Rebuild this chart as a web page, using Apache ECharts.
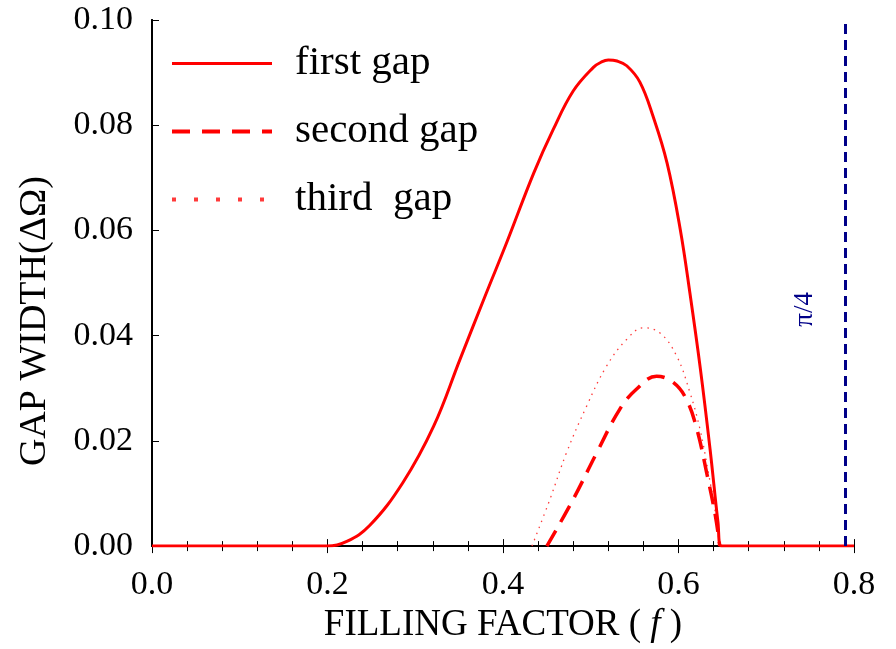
<!DOCTYPE html>
<html>
<head>
<meta charset="utf-8">
<script src="https://cdn.jsdelivr.net/npm/echarts@6/dist/echarts.min.js"></script>
<style>
  html, body { margin: 0; padding: 0; background: #fff; }
  #chart { width: 896px; height: 649px; }
</style>
</head>
<body>
<div id="chart"></div>
<script>
// Filling factor samples and gap widths for each band gap
const firstF   = [0.0, 0.1, 0.2, 0.222, 0.248, 0.286, 0.321, 0.351, 0.381, 0.404, 0.435, 0.457, 0.480, 0.503, 0.512, 0.520, 0.530, 0.541, 0.556, 0.571, 0.587, 0.602, 0.613, 0.625, 0.636, 0.645, 0.649, 0.7, 0.8];
const firstGap = [0.0, 0.0, 0.0, 0.0009, 0.0039, 0.0121, 0.0228, 0.0355, 0.0481, 0.0576, 0.0709, 0.0791, 0.0865, 0.0910, 0.0920, 0.0924, 0.0922, 0.0913, 0.0882, 0.0817, 0.0728, 0.0602, 0.0481, 0.0336, 0.0184, 0.0045, 0.0, 0.0, 0.0];

const secondF   = [0.450, 0.480, 0.507, 0.533, 0.552, 0.575, 0.594, 0.609, 0.621, 0.632, 0.642, 0.647];
const secondGap = [0.0, 0.0089, 0.0178, 0.0260, 0.0298, 0.0323, 0.0311, 0.0279, 0.0222, 0.0140, 0.0058, 0.0];

const thirdF   = [0.433, 0.4535, 0.4725, 0.4953, 0.518, 0.541, 0.560, 0.579, 0.598, 0.613, 0.6245, 0.634, 0.642, 0.647];
const thirdGap = [0.0, 0.0089, 0.0178, 0.0266, 0.0342, 0.0393, 0.0415, 0.0405, 0.0361, 0.0292, 0.0222, 0.0140, 0.0064, 0.0];

const seriesNames = ['first gap', 'second gap', 'third gap'];
const quarterPi = Math.PI / 4;
const quarterPiLabel = 'π/4';

const pairs = (xs, ys) => xs.map((x, i) => [x, ys[i]]);

const serif = "'Liberation Serif', 'Times New Roman', serif";
const red = '#ff0000';
const navy = '#000088';

const chart = echarts.init(document.getElementById('chart'), null, { renderer: 'canvas' });

chart.setOption({
  backgroundColor: '#ffffff',
  animation: false,
  grid: { left: 152, right: 42, top: 20, bottom: 102 },
  legend: {
    orient: 'vertical',
    left: 165,
    top: 38,
    itemWidth: 100,
    itemHeight: 6,
    itemGap: 27,
    formatter: name => name === seriesNames[2] ? 'third  gap' : name,
    textStyle: { fontFamily: serif, fontSize: 41, color: '#000', padding: [0, 0, 0, 18] },
    data: [
      { name: seriesNames[0], itemStyle: { opacity: 0 }, lineStyle: { width: 3 } },
      { name: seriesNames[1], itemStyle: { opacity: 0 }, lineStyle: { width: 4, type: [18, 12] } },
      { name: seriesNames[2], itemStyle: { opacity: 0 }, lineStyle: { width: 4, type: [4, 18] } }
    ]
  },
  xAxis: [
    {
      type: 'value', min: 0, max: 0.8, interval: 0.2,
      name: 'FILLING FACTOR ( {i|f} )',
      nameLocation: 'middle', nameGap: 58,
      nameTextStyle: {
        fontFamily: serif, fontSize: 37, color: '#000',
        rich: { i: { fontFamily: serif, fontSize: 37, fontStyle: 'italic', color: '#000' } }
      },
      axisLine: { show: true, lineStyle: { color: '#000', width: 2 } },
      axisTick: { show: true, inside: true, length: 7, lineStyle: { color: '#000', width: 1 } },
      minorTick: { show: true, splitNumber: 5, length: 5, lineStyle: { color: '#000', width: 1 } },
      axisLabel: { fontFamily: serif, fontSize: 34, color: '#000', margin: 22, formatter: v => v.toFixed(1) },
      splitLine: { show: false }
    },
    {
      type: 'value', min: 0, max: 0.8, interval: 0.2, position: 'top',
      axisLine: { show: true, lineStyle: { color: '#000', width: 2 } },
      axisTick: { show: true, inside: true, length: 7, lineStyle: { color: '#000', width: 1 } },
      minorTick: { show: true, splitNumber: 5, length: 5, lineStyle: { color: '#000', width: 1 } },
      axisLabel: { show: false },
      splitLine: { show: false }
    }
  ],
  yAxis: [
    {
      type: 'value', min: 0, max: 0.1, interval: 0.02,
      name: 'GAP WIDTH(ΔΩ)',
      nameLocation: 'middle', nameGap: 98, nameRotate: 90,
      nameTextStyle: { fontFamily: serif, fontSize: 38, color: '#000', padding: [0, 76, 0, 0] },
      axisLine: { show: true, lineStyle: { color: '#000', width: 2 } },
      axisTick: { show: true, inside: true, length: 7, lineStyle: { color: '#000', width: 1 } },
      axisLabel: { fontFamily: serif, fontSize: 34, color: '#000', margin: 19, formatter: v => v.toFixed(2) },
      splitLine: { show: false }
    },
    {
      type: 'value', min: 0, max: 0.1, interval: 0.02, position: 'right',
      axisLine: { show: true, lineStyle: { color: '#000', width: 2 } },
      axisTick: { show: false },
      axisLabel: { show: false },
      splitLine: { show: false }
    }
  ],
  series: [
    {
      name: seriesNames[2], type: 'line', symbol: 'none', smooth: 0.4,
      data: pairs(thirdF, thirdGap),
      lineStyle: { color: '#ff3a3a', width: 1.3, type: [1.5, 5] },
      itemStyle: { color: red },
      z: 2
    },
    {
      name: seriesNames[1], type: 'line', symbol: 'none', smooth: 0.4,
      data: pairs(secondF, secondGap),
      lineStyle: { color: red, width: 3.5, type: [18, 10] },
      itemStyle: { color: red },
      z: 3
    },
    {
      name: seriesNames[0], type: 'line', symbol: 'none', smooth: 0.4,
      data: pairs(firstF, firstGap),
      lineStyle: { color: red, width: 3 },
      itemStyle: { color: red },
      z: 4,
      markLine: {
        silent: true, symbol: 'none',
        lineStyle: { color: navy, width: 3, type: [10, 6] },
        label: { show: false },
        data: [{ xAxis: quarterPi }]
      }
    }
  ]
});

// π/4 marker text, set beside the dashed line and reading upward
const px = chart.convertToPixel({ xAxisIndex: 0 }, quarterPi);
const py = chart.convertToPixel({ yAxisIndex: 0 }, 0.045);
chart.setOption({
  graphic: [{
    type: 'text', x: px - 36, y: py, rotation: Math.PI / 2, silent: true,
    style: {
      text: quarterPiLabel, fontFamily: serif, fontSize: 27, fill: navy,
      align: 'center', verticalAlign: 'middle'
    }
  }]
});
</script>
</body>
</html>
